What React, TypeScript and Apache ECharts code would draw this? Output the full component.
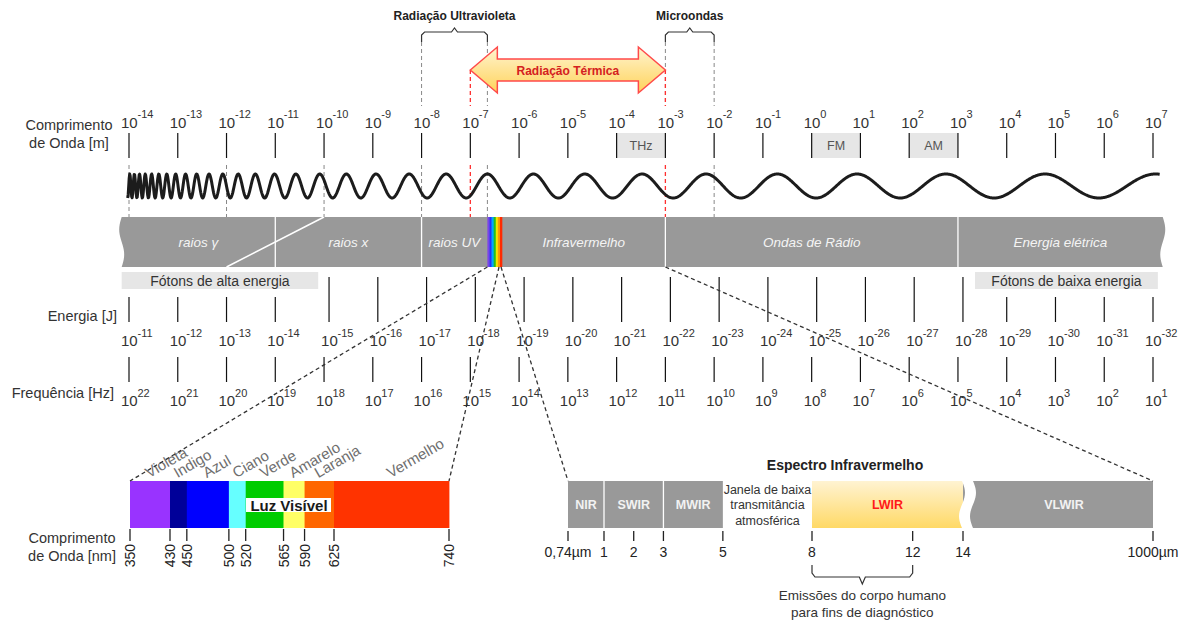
import React, { useEffect, useRef } from 'react';
import * as echarts from 'echarts';

const FONT = '"Liberation Sans", Arial, Helvetica, sans-serif';

// ---------------- data ----------------
const wavelengthExponents = [-14, -13, -12, -11, -10, -9, -8, -7, -6, -5, -4, -3, -2, -1, 0, 1, 2, 3, 4, 5, 6, 7];
const energyExponents = [-11, -12, -13, -14, -15, -16, -17, -18, -19, -20, -21, -22, -23, -24, -25, -26, -27, -28, -29, -30, -31, -32];
const frequencyExponents = [22, 21, 20, 19, 18, 17, 16, 15, 14, 13, 12, 11, 10, 9, 8, 7, 6, 5, 4, 3, 2, 1];

const bandNames = ['raios γ', 'raios x', 'raios UV', 'visível', 'Infravermelho', 'Ondas de Rádio', 'Energia elétrica'];
const bandStarts = [-14.15, -11, -8, -6.65, -6.35, -3, 3];
const bandEnds = [-11, -8, -6.65, -6.35, -3, 3, 7.2];
const gammaXOverlap = [-12, -10];

const radioBoxLabels = ['THz', 'FM', 'AM'];
const radioBoxStarts = [-4, 0, 2];
const radioBoxEnds = [-3, 1, 3];

const photonLabels = ['Fótons de alta energia', 'Fótons de baixa energia'];
const photonStarts = [-14.15, 3.35];
const photonEnds = [-10.12, 7.1];

const rangeLabels = ['Radiação Ultravioleta', 'Microondas'];
const rangeStarts = [-8, -3];
const rangeEnds = [-6.65, -2];
const thermalLabel = 'Radiação Térmica';
const thermalRange = [-7, -3];
const guideGray = [-14, -12, -10, -8, -6.65, -2];
const guideRed = [-7, -3];

const visibleBounds = [350, 430, 450, 500, 520, 565, 590, 625, 740];
const visibleNames = ['Violeta', 'Indigo', 'Azul', 'Ciano', 'Verde', 'Amarelo', 'Laranja', 'Vermelho'];

const irTicks = [0.74, 1, 2, 3, 5, 8, 12, 14, 1000];
const irTickLabels = ['0,74µm', '1', '2', '3', '5', '8', '12', '14', '1000µm'];
const irBandNames = ['NIR', 'SWIR', 'MWIR', 'Janela de baixa\ntransmitância\natmosférica', 'LWIR', 'VLWIR'];
const irBandStarts = [0.74, 1, 3, 5, 8, 14];
const irBandEnds = [1, 3, 5, 8, 14, 1000];
const humanRange = [8, 12];
const humanLabel = 'Emissões do corpo humano\npara fins de diagnóstico';

// ---------------- styles / layout ----------------
const visibleColors = ['#9933ff', '#000099', '#0000ff', '#66ffff', '#00cc00', '#ffff66', '#ff6600', '#ff3300'];
const rainbowColors = ['#7a44e8', '#2233ff', '#00a8ff', '#22c022', '#f2e600', '#ff9900', '#ff2a00'];
const GRAY = '#999999';
const BOX = '#e6e6e6';
const TXT = '#333333';

const W = 1184;
const H = 622;
const MAIN_PX = [129, 1153];
const VIS_PIECES = [
  { domain: [350, 430], px: [130, 170] },
  { domain: [430, 625], px: [170, 334] },
  { domain: [625, 740], px: [334, 449] },
];
const IR_PIECES = [
  { domain: [0.74, 1], px: [568, 604] },
  { domain: [1, 8], px: [604, 812] },
  { domain: [8, 14], px: [812, 963] },
  { domain: [14, 1000], px: [963, 1153] },
];

const pieceOf = (pieces: any[], v: number) => {
  for (let k = 0; k < pieces.length; k++) {
    if (v >= pieces[k].domain[0] && v <= pieces[k].domain[1]) return k;
  }
  return -1;
};

const px = (api: any, v: number) => api.coord([v, 0])[0];

const txt = (x: number, y: number, text: string, o: any = {}, extra: any = {}) => ({
  type: 'text',
  x,
  y,
  ...extra,
  style: {
    text,
    fill: TXT,
    fontSize: 14.5,
    fontFamily: FONT,
    align: 'center',
    verticalAlign: 'middle',
    textAlign: o.align || 'center',
    textVerticalAlign: o.verticalAlign || 'middle',
    ...o,
  },
});

const vline = (x: number, y1: number, y2: number, style: any) => ({
  type: 'line',
  shape: { x1: x, y1, x2: x, y2 },
  style: { fill: 'none', ...style },
});

const pow10 = (x: number, cy: number, sup: string, supDy: number) => [
  txt(x - 8, cy, '10', { fontSize: 15, align: 'left', fill: '#333' }),
  txt(x + 8.5, cy - supDy, sup, { fontSize: 11, align: 'left', fill: '#333' }),
];

function buildOption() {
  const grid: any[] = [];
  const xAxis: any[] = [];
  const yAxis: any[] = [];
  const series: any[] = [];
  const addAxis = (x1: number, x2: number, min: number, max: number) => {
    const idx = grid.length;
    grid.push({ left: x1, width: x2 - x1, top: 0, height: H });
    xAxis.push({ gridIndex: idx, type: 'value', min, max, show: false });
    yAxis.push({ gridIndex: idx, type: 'value', min: 0, max: 1, show: false });
    return idx;
  };
  const add = (axis: number, data: any[], render: (api: any, d: any, i: number) => any, z = 2) => {
    if (!data.length) return;
    series.push({
      type: 'custom',
      xAxisIndex: axis,
      yAxisIndex: axis,
      data,
      z,
      silent: true,
      clip: false,
      renderItem: (params: any, api: any) => render(api, data[params.dataIndex], params.dataIndex),
    });
  };

  const MAIN = addAxis(MAIN_PX[0], MAIN_PX[1], wavelengthExponents[0], wavelengthExponents[wavelengthExponents.length - 1]);
  const visAx = VIS_PIECES.map((p) => addAxis(p.px[0], p.px[1], p.domain[0], p.domain[1]));
  const irAx = IR_PIECES.map((p) => addAxis(p.px[0], p.px[1], p.domain[0], p.domain[1]));

  // ---- photon boxes ----
  add(MAIN, photonStarts.map((s, i) => [s, photonEnds[i], i]), (api, d) => {
    const x1 = px(api, d[0]);
    const x2 = px(api, d[1]);
    return {
      type: 'group',
      children: [
        { type: 'rect', shape: { x: x1, y: 272, width: x2 - x1, height: 17 }, style: { fill: BOX } },
        txt((x1 + x2) / 2, 281, photonLabels[d[2]], { fontSize: 14 }),
      ],
    };
  });

  // ---- radio boxes (THz / FM / AM) ----
  add(MAIN, radioBoxStarts.map((s, i) => [s, radioBoxEnds[i], i]), (api, d) => {
    const x1 = px(api, d[0]);
    const x2 = px(api, d[1]);
    return {
      type: 'group',
      children: [
        { type: 'rect', shape: { x: x1, y: 133, width: x2 - x1, height: 25 }, style: { fill: BOX } },
        txt((x1 + x2) / 2, 146, radioBoxLabels[d[2]], { fontSize: 12.5, fill: '#555' }),
      ],
    };
  });

  // ---- band base (wavy ends) ----
  add(MAIN, [[bandStarts[0], bandEnds[bandEnds.length - 1]]], (api, d) => {
    const L = px(api, d[0]);
    const R = px(api, d[1]);
    const y1 = 217;
    const y2 = 267;
    const pts: number[][] = [[L, y1], [R, y1]];
    for (let t = 0; t <= 1.0001; t += 0.05) pts.push([R + 2.5 * Math.sin(2 * Math.PI * t), y1 + t * (y2 - y1)]);
    pts.push([L, y2]);
    for (let t = 1; t >= -0.0001; t -= 0.05) pts.push([L - 2.5 * Math.sin(2 * Math.PI * t), y1 + t * (y2 - y1)]);
    return { type: 'polygon', shape: { points: pts }, style: { fill: GRAY } };
  });

  // ---- band content ----
  const visIdx = bandNames.indexOf('visível');
  add(MAIN, bandStarts.map((s, i) => [s, bandEnds[i], i]), (api, d) => {
    const i = d[2];
    const x1 = px(api, d[0]);
    const x2 = px(api, d[1]);
    const children: any[] = [];
    if (i === visIdx) {
      const w = (x2 - x1) / rainbowColors.length;
      rainbowColors.forEach((c, k) => {
        children.push({ type: 'rect', shape: { x: x1 + k * w, y: 217, width: w + 0.3, height: 50 }, style: { fill: c } });
      });
    } else {
      let cx = (x1 + x2) / 2;
      if (i === 0) cx = (x1 + px(api, (gammaXOverlap[0] + gammaXOverlap[1]) / 2)) / 2;
      children.push(txt(cx, 242, bandNames[i], { fontSize: 13.5, fontStyle: 'italic', fill: '#f4f4f4' }));
      if (i > 0 && i - 1 !== visIdx) {
        children.push(vline(x1, 217, 267, { stroke: '#ffffff', lineWidth: 1.3 }));
      }
      if (i === 0) {
        children.push({
          type: 'line',
          shape: { x1: px(api, gammaXOverlap[1]), y1: 217, x2: px(api, gammaXOverlap[0]), y2: 267 },
          style: { stroke: '#ffffff', lineWidth: 1.5 },
        });
      }
    }
    return { type: 'group', children };
  });

  // ---- dashed guides in wave region ----
  add(MAIN, [...guideGray.map((v) => [v, 0]), ...guideRed.map((v) => [v, 1])], (api, d) => {
    const x = px(api, d[0]);
    return vline(x, 165, 217, {
      stroke: d[1] ? '#ff3030' : '#888888',
      lineWidth: d[1] ? 1.3 : 1,
      lineDash: [4, 3],
    });
  });

  // ---- the wave (decorative chirp) ----
  add(MAIN, [[0, 0]], (api) => {
    const xs = px(api, bandStarts[0]) + 6;
    const xe = px(api, bandEnds[bandEnds.length - 1]) - 3;
    const xRef = px(api, bandStarts[visIdx]);
    const c = 0.1096;
    const x0 = 90;
    const pts: number[][] = [];
    for (let x = xs; x <= xe; x += 0.5) {
      const ph = (2 * Math.PI / c) * Math.log((x - x0) / (xRef - x0));
      pts.push([x, 186 - 12 * Math.cos(ph)]);
    }
    return { type: 'polyline', shape: { points: pts }, style: { stroke: '#1c1c1c', lineWidth: 3, fill: 'none', lineJoin: 'round' } };
  }, 3);

  // ---- wavelength ticks ----
  add(MAIN, wavelengthExponents.map((e, i) => [e, i]), (api, d) => {
    const x = px(api, d[0]);
    return {
      type: 'group',
      children: [vline(x, 133, 158, { stroke: '#111', lineWidth: 1.2 }), ...pow10(x, 122, String(wavelengthExponents[d[1]]), 8)],
    };
  }, 3);

  // ---- energy ticks ----
  add(MAIN, wavelengthExponents.map((e, i) => [e, i]), (api, d) => {
    const inBox = photonStarts.some((s, k) => d[0] >= s && d[0] <= photonEnds[k]);
    const x = px(api, d[0]) + (inBox ? 0 : 5);
    return {
      type: 'group',
      children: [vline(x, inBox ? 297 : 277, 322, { stroke: '#111', lineWidth: 1.2 }), ...pow10(x, 340, String(energyExponents[d[1]]), 7)],
    };
  }, 3);

  // ---- frequency ticks ----
  add(MAIN, wavelengthExponents.map((e, i) => [e, i]), (api, d) => {
    const x = px(api, d[0]);
    return {
      type: 'group',
      children: [vline(x, 357, 382, { stroke: '#111', lineWidth: 1.2 }), ...pow10(x, 400, String(frequencyExponents[d[1]]), 7)],
    };
  }, 3);

  // ---- brackets on top ----
  add(MAIN, rangeStarts.map((s, i) => [s, rangeEnds[i], i]), (api, d) => {
    const x1 = px(api, d[0]);
    const x2 = px(api, d[1]);
    const m = (x1 + x2) / 2;
    return {
      type: 'group',
      children: [
        {
          type: 'polyline',
          shape: { points: [[x1, 42], [x1, 35], [x1 + 3, 32], [m - 3, 32], [m, 28], [m + 3, 32], [x2 - 3, 32], [x2, 35], [x2, 42]] },
          style: { stroke: '#333', lineWidth: 1.2, fill: 'none' },
        },
        vline(x1, 42, 106, { stroke: '#888', lineWidth: 1, lineDash: [4, 3] }),
        vline(x2, 42, 106, { stroke: '#888', lineWidth: 1, lineDash: [4, 3] }),
        txt(m, 16, rangeLabels[d[2]], { fontSize: 12, fontWeight: 'bold', fill: '#222' }),
      ],
    };
  }, 3);

  // ---- thermal radiation double arrow ----
  add(MAIN, [[thermalRange[0], thermalRange[1]]], (api, d) => {
    const x1 = px(api, d[0]);
    const x2 = px(api, d[1]);
    const cy = 70;
    const hw = 27;
    const pts = [
      [x1, cy], [x1 + hw, cy - 23], [x1 + hw, cy - 11], [x2 - hw, cy - 11], [x2 - hw, cy - 23],
      [x2, cy], [x2 - hw, cy + 23], [x2 - hw, cy + 11], [x1 + hw, cy + 11], [x1 + hw, cy + 23],
    ];
    return {
      type: 'group',
      children: [
        vline(x1, cy, 106, { stroke: '#ff3030', lineWidth: 1.3, lineDash: [4, 3] }),
        vline(x2, cy, 106, { stroke: '#ff3030', lineWidth: 1.3, lineDash: [4, 3] }),
        {
          type: 'polygon',
          shape: { points: pts },
          style: {
            fill: new echarts.graphic.LinearGradient(0, 0, 0, 1, [
              { offset: 0, color: '#fff4d0' },
              { offset: 1, color: '#ffd35a' },
            ]),
            stroke: '#ff4a4a',
            lineWidth: 1.5,
          },
        },
        txt((x1 + x2) / 2, cy + 1, thermalLabel, { fontSize: 12, fontWeight: 'bold', fill: '#d42020' }),
      ],
    };
  }, 4);

  // ---- visible spectrum ----
  VIS_PIECES.forEach((p, k) => {
    const items = visibleNames
      .map((n, i) => [visibleBounds[i], visibleBounds[i + 1], i])
      .filter((d) => pieceOf(VIS_PIECES, (d[0] + d[1]) / 2) === k);
    add(visAx[k], items, (api, d) => {
      const x1 = px(api, d[0]);
      const x2 = px(api, d[1]);
      return {
        type: 'group',
        children: [
          { type: 'rect', shape: { x: x1, y: 481, width: x2 - x1 + 0.4, height: 47 }, style: { fill: visibleColors[d[2]] } },
          txt((x1 + x2) / 2, 480, visibleNames[d[2]], { fontSize: 15, fill: '#6e6e6e', align: 'left', verticalAlign: 'bottom' }, { rotation: (30 * Math.PI) / 180 }),
        ],
      };
    });
    const ticks = visibleBounds.map((v) => [v, 0]).filter((d) => pieceOf(VIS_PIECES, d[0]) === k);
    add(visAx[k], ticks, (api, d) => {
      const x = px(api, d[0]);
      return {
        type: 'group',
        children: [
          vline(x, 529, 541, { stroke: '#222', lineWidth: 1.3 }),
          txt(x, 544, String(d[0]), { fontSize: 14, fill: '#222', align: 'right', verticalAlign: 'middle' }, { rotation: Math.PI / 2 }),
        ],
      };
    });
  });

  // ---- infrared spectrum ----
  IR_PIECES.forEach((p, k) => {
    const items = irBandNames
      .map((n, i) => [irBandStarts[i], irBandEnds[i], i])
      .filter((d) => pieceOf(IR_PIECES, (d[0] + d[1]) / 2) === k);
    add(irAx[k], items, (api, d) => {
      const x1 = px(api, d[0]);
      const x2 = px(api, d[1]);
      const name = irBandNames[d[2]];
      const cx = (x1 + x2) / 2;
      const children: any[] = [];
      if (name.indexOf('Janela') === 0) {
        children.push(txt(cx, 505, name, { fontSize: 12.5, lineHeight: 15.5, fill: '#333' }));
      } else if (name === 'LWIR') {
        children.push({
          type: 'rect',
          shape: { x: x1, y: 481, width: x2 - x1, height: 47 },
          style: {
            fill: new echarts.graphic.LinearGradient(0, 0, 0, 1, [
              { offset: 0, color: '#fff3d2' },
              { offset: 1, color: '#ffd966' },
            ]),
          },
        });
        children.push(txt(cx, 505, name, { fontSize: 12.5, fontWeight: 'bold', fill: '#ff1a1a' }));
      } else {
        children.push({ type: 'rect', shape: { x: x1, y: 481, width: x2 - x1, height: 47 }, style: { fill: GRAY } });
        const adjacentGray = irBandEnds.some((e, j) => e === d[0] && irBandNames[j] !== 'LWIR' && irBandNames[j].indexOf('Janela') !== 0);
        const afterWarm = irBandEnds.some((e, j) => e === d[0] && irBandNames[j] === 'LWIR');
        if (adjacentGray) children.push(vline(x1, 481, 528, { stroke: '#fff', lineWidth: 1.3 }));
        if (afterWarm) {
          const pts: number[][] = [];
          for (let t = 0; t <= 1.0001; t += 0.05) pts.push([x1 - 1 + 3 * Math.sin(2 * Math.PI * t), 481 + 47 * t]);
          for (let t = 1; t >= -0.0001; t -= 0.05) pts.push([x1 + 10 + 3 * Math.sin(2 * Math.PI * t), 481 + 47 * t]);
          children.push({ type: 'polygon', shape: { points: pts }, style: { fill: '#ffffff' } });
        }
        const lcx = afterWarm ? cx + 6 : cx;
        children.push(txt(lcx, 505, name, { fontSize: 12.5, fontWeight: 'bold', fill: '#f2f2f2' }));
      }
      return { type: 'group', children };
    });
    const ticks = irTicks.map((v, i) => [v, i]).filter((d) => pieceOf(IR_PIECES, d[0]) === k);
    add(irAx[k], ticks, (api, d) => {
      const x = px(api, d[0]);
      return {
        type: 'group',
        children: [vline(x, 531, 541, { stroke: '#222', lineWidth: 1.3 }), txt(x, 552, irTickLabels[d[1]], { fontSize: 14, fill: '#222' })],
      };
    });
    if (pieceOf(IR_PIECES, (humanRange[0] + humanRange[1]) / 2) === k) {
      add(irAx[k], [[humanRange[0], humanRange[1]]], (api, d) => {
        const x1 = px(api, d[0]);
        const x2 = px(api, d[1]);
        const m = (x1 + x2) / 2;
        return {
          type: 'group',
          children: [
            {
              type: 'polyline',
              shape: { points: [[x1, 565], [x1, 573], [x1 + 3, 577], [m - 3, 577], [m, 584], [m + 3, 577], [x2 - 3, 577], [x2, 573], [x2, 565]] },
              style: { stroke: '#333', lineWidth: 1.2, fill: 'none' },
            },
            txt(m, 604, humanLabel, { fontSize: 13.5, lineHeight: 17, fill: '#333' }),
          ],
        };
      });
    }
  });

  return { animation: false, grid, xAxis, yAxis, series };
}

function staticGraphics(chart: any, visAxBase: number, irAxBase: number) {
  const mainPx = (v: number) => chart.convertToPixel({ xAxisIndex: 0 }, v);
  const visPx = (v: number) => chart.convertToPixel({ xAxisIndex: visAxBase + pieceOf(VIS_PIECES, v) }, v);
  const irPx = (v: number) => chart.convertToPixel({ xAxisIndex: irAxBase + pieceOf(IR_PIECES, v) }, v);
  const vi = bandNames.indexOf('visível');
  const iri = bandNames.indexOf('Infravermelho');
  const dash = { stroke: '#333', lineWidth: 1.3, lineDash: [4, 3] };
  const conn = (x1: number, y1: number, x2: number, y2: number) => ({ type: 'line', z: 50, shape: { x1, y1, x2, y2 }, style: dash });
  const label = (x: number, y: number, text: string, o: any = {}) => ({
    type: 'text',
    z: 60,
    x,
    y,
    style: {
      text,
      fill: TXT,
      fontSize: 14.5,
      fontFamily: FONT,
      align: 'center',
      verticalAlign: 'middle',
      textAlign: o.align || 'center',
      textVerticalAlign: 'middle',
      ...o,
    },
  });
  return [
    conn(mainPx(bandStarts[vi]), 267, visPx(visibleBounds[0]), 481),
    conn(mainPx(bandEnds[vi]) - 3, 267, visPx(visibleBounds[visibleBounds.length - 1]), 481),
    conn(mainPx(bandEnds[vi]) - 1, 267, irPx(irTicks[0]), 481),
    conn(mainPx(bandEnds[iri]), 267, irPx(irTicks[irTicks.length - 1]), 481),
    label(69, 134, 'Comprimento\nde Onda [m]', { lineHeight: 18 }),
    label(117, 316, 'Energia [J]', { align: 'right' }),
    label(114, 393, 'Frequência [Hz]', { align: 'right' }),
    label(72, 547, 'Comprimento\nde Onda [nm]', { lineHeight: 18 }),
    label(845, 465, 'Espectro Infravermelho', { fontSize: 14, fontWeight: 'bold', fill: '#222' }),
    { type: 'rect', z: 55, shape: { x: 246, y: 498, width: 85, height: 14 }, style: { fill: '#ffffff' } },
    label(289, 505, 'Luz Visível', { fontSize: 15, fontWeight: 'bold', fill: '#1a1a1a' }),
  ];
}

export default function App() {
  const ref = useRef<HTMLDivElement>(null);
  useEffect(() => {
    document.body.style.margin = '0';
    const chart = echarts.init(ref.current as HTMLDivElement, null, { renderer: 'svg' });
    chart.setOption(buildOption());
    const elements = staticGraphics(chart, 1, 1 + VIS_PIECES.length);
    chart.setOption({ graphic: { elements } });
    return () => chart.dispose();
  }, []);
  return <div ref={ref} style={{ width: W, height: H, background: '#ffffff' }} />;
}
